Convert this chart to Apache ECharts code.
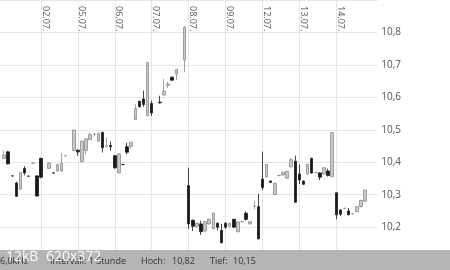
<!DOCTYPE html>
<html>
<head>
<meta charset="utf-8">
<script src="https://cdn.jsdelivr.net/npm/echarts@6/dist/echarts.min.js"></script>
<style>html,body{margin:0;padding:0;background:#fff;}#c{width:450px;height:270px;}</style>
</head>
<body>
<div id="c"></div>
<script>
const days = ['01.07.','02.07.','05.07.','06.07.','07.07.','08.07.','09.07.','12.07.','13.07.','14.07.'];
const hours = ['09','10','11','12','13','14','15','16','17'];
const yTicks = [10.2, 10.3, 10.4, 10.5, 10.6, 10.7, 10.8];

const opens = [
  10.412,10.432,10.358,10.336,10.317,10.381,10.357,10.397,10.358,
  10.412,null,10.381,10.367,10.373,10.373,10.420,null,10.436,
  10.437,10.402,10.436,10.470,10.486,10.465,10.492,10.450,10.452,
  10.420,10.368,10.393,10.448,10.449,10.532,10.588,10.595,10.544,
  10.581,null,10.585,10.607,10.637,10.662,10.672,null,10.715,
  10.328,10.221,10.203,10.210,10.188,10.210,10.195,10.212,10.190,
  10.212,10.203,10.224,10.186,10.217,10.243,10.210,10.264,10.263,
  10.348,10.355,10.342,10.301,10.359,10.361,10.351,10.386,10.403,
  10.364,10.342,10.364,10.412,10.368,10.367,10.364,10.373,10.356,
  10.306,10.253,10.258,10.250,10.241,10.248,10.263,10.280,null
];
const closes = [
  10.422,10.395,10.358,10.295,10.368,10.367,10.357,10.397,10.296,
  10.354,null,10.397,10.367,10.393,10.397,10.420,null,10.499,
  10.432,10.465,10.472,10.485,10.486,10.489,10.445,10.450,10.448,
  10.383,10.426,10.393,10.431,10.462,10.566,10.571,10.578,10.707,
  10.552,null,10.583,10.619,10.641,10.653,10.686,null,10.815,
  10.210,10.203,10.212,10.186,10.217,10.224,10.243,10.200,10.152,
  10.200,10.212,10.200,10.216,10.217,10.224,10.217,10.264,10.164,
  10.322,10.393,10.338,10.335,10.359,10.369,10.372,10.408,10.277,
  10.345,10.332,10.393,10.367,10.368,10.354,10.383,10.359,10.491,
  10.238,10.240,10.258,10.238,10.241,10.263,10.282,10.314,null
];
const lows = [
  10.410,10.393,10.356,10.294,10.315,10.360,10.355,10.395,10.294,
  10.350,null,10.379,10.365,10.371,10.371,10.418,null,10.434,
  10.420,10.400,10.425,10.468,10.480,10.463,10.430,10.445,10.435,
  10.380,10.366,10.391,10.425,10.440,10.530,10.569,10.571,10.542,
  10.542,null,10.581,10.605,10.629,10.651,10.653,null,10.677,
  10.195,10.188,10.197,10.176,10.186,10.208,10.193,10.190,10.150,
  10.195,10.200,10.198,10.184,10.215,10.220,10.208,10.255,10.162,
  10.315,10.353,10.336,10.298,10.357,10.359,10.349,10.384,10.275,
  10.333,10.330,10.361,10.365,10.366,10.345,10.362,10.356,10.354,
  10.224,10.235,10.256,10.236,10.239,10.246,10.261,10.278,null
];
const highs = [
  10.436,10.435,10.360,10.340,10.370,10.388,10.359,10.399,10.360,
  10.414,null,10.399,10.369,10.395,10.428,10.422,null,10.501,
  10.440,10.467,10.474,10.490,10.490,10.491,10.494,10.476,10.464,
  10.423,10.428,10.395,10.460,10.463,10.578,10.590,10.621,10.709,
  10.590,null,10.605,10.657,10.648,10.664,10.688,null,10.820,
  10.383,10.224,10.215,10.220,10.219,10.226,10.245,10.214,10.210,
  10.215,10.214,10.226,10.218,10.219,10.248,10.219,10.280,10.303,
  10.433,10.395,10.344,10.337,10.361,10.371,10.374,10.413,10.420,
  10.393,10.344,10.395,10.414,10.370,10.369,10.385,10.380,10.493,
  10.307,10.255,10.260,10.259,10.243,10.265,10.285,10.316,null
];

const categories = [''];
days.forEach(d => hours.forEach(h => categories.push(d + ' ' + h + ':00')));
categories.push('', '');

const candles = ['-'];
for (let i = 0; i < opens.length; i++) {
  candles.push(opens[i] == null ? '-' : [opens[i], closes[i], lows[i], highs[i]]);
}
candles.push('-', '-');

const per = hours.length;
const isDayStart = idx => idx >= 1 + per && idx <= days.length * per && (idx - 1) % per === 0;
const isLabelSlot = idx => idx >= 2 + per && idx <= days.length * per && (idx - 1) % per === 1;

const chart = echarts.init(document.getElementById('c'), null, {renderer: 'canvas'});
chart.setOption({
  animation: false,
  backgroundColor: '#ffffff',
  grid: {left: 0, right: 72.7, top: -17.3, bottom: 10.4, containLabel: false},
  xAxis: {
    type: 'category',
    position: 'top',
    data: categories,
    boundaryGap: false,
    axisLine: {show: false},
    axisTick: {show: false},
    axisLabel: {
      inside: true,
      rotate: 90,
      margin: 6,
      interval: isLabelSlot,
      formatter: v => v.slice(0, 6),
      color: '#555',
      fontSize: 9,
      fontFamily: 'Open Sans'
    },
    splitLine: {show: true, interval: isDayStart, lineStyle: {color: '#e6e6e6', width: 1}}
  },
  yAxis: {
    type: 'value',
    position: 'right',
    min: 10.1,
    max: 10.9,
    interval: 0.1,
    axisLine: {show: false},
    axisTick: {show: false},
    axisLabel: {
      margin: 4,
      color: '#555',
      fontSize: 10,
      fontFamily: 'Open Sans',
      formatter: v => yTicks.some(t => Math.abs(t - v) < 1e-6) ? v.toFixed(1).replace('.', ',') : ''
    },
    splitLine: {show: true, lineStyle: {color: '#e6e6e6', width: 1}}
  },
  series: [{
    type: 'candlestick',
    data: candles,
    barWidth: 3,
    itemStyle: {
      color: '#c9c9c9',
      borderColor: '#8c8c8c',
      color0: '#1a1a1a',
      borderColor0: '#1a1a1a',
      borderWidth: 0.8
    }
  }],
  graphic: [
    {type: 'rect', z: 100, left: 0, top: 250, shape: {width: 450, height: 20}, style: {fill: '#b5b5b5'}},
    {type: 'text', z: 101, left: 0, top: 257, style: {text: '6,0kHz', fill: '#333', font: '9px "Open Sans"'}},
    {type: 'text', z: 101, left: 50, top: 257, style: {text: 'Intervall: 1 Stunde', fill: '#333', font: '9px "Open Sans"'}},
    {type: 'text', z: 101, left: 141, top: 257, style: {text: 'Hoch:', fill: '#333', font: '9px "Open Sans"'}},
    {type: 'text', z: 101, left: 172, top: 257, style: {text: '10,82', fill: '#333', font: '9px "Open Sans"'}},
    {type: 'text', z: 101, left: 210, top: 257, style: {text: 'Tief:', fill: '#333', font: '9px "Open Sans"'}},
    {type: 'text', z: 101, left: 233, top: 257, style: {text: '10,15', fill: '#333', font: '9px "Open Sans"'}},
    {type: 'text', z: 102, left: 6, top: 250, style: {text: '12kB', fill: 'rgba(255,255,255,0.92)', font: '14px "Open Sans"'}},
    {type: 'text', z: 102, left: 46, top: 250, style: {text: '620x372', fill: 'rgba(255,255,255,0.92)', font: '14px "Open Sans"'}}
  ]
});
</script>
</body>
</html>
